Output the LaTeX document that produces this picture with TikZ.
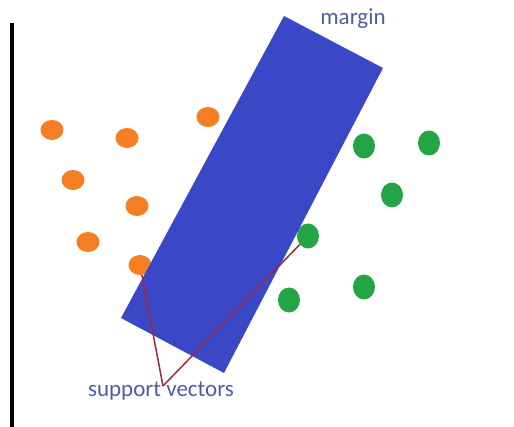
\documentclass[tikz,border=0pt]{standalone}
\usepackage{fontspec}
\setmainfont{Carlito}
\usetikzlibrary{shapes.geometric}
\definecolor{marginblue}{RGB}{58,72,200}
\definecolor{dotorange}{RGB}{245,125,35}
\definecolor{dotgreen}{RGB}{35,165,70}
\definecolor{labelblue}{RGB}{80,92,160}
\definecolor{svred}{RGB}{160,40,60}

\tikzset{
  orangedot/.style={shape=ellipse, fill=dotorange, inner sep=0pt, minimum width=23pt, minimum height=20pt},
  greendot/.style={shape=ellipse, fill=dotgreen, inner sep=0pt, minimum width=22pt, minimum height=25pt},
  labeltext/.style={text=labelblue, font=\fontsize{23}{26}\selectfont, inner sep=0pt}
}

\begin{document}
\begin{tikzpicture}[x=1pt, y=-1pt]
  \useasboundingbox (0,0) rectangle (514,427);
  % axis
  \draw[line width=4pt] (12,23) -- (12,427);
  % class one
  \node[orangedot] (o1) at (52,130) {};
  \node[orangedot] (o2) at (127,138) {};
  \node[orangedot] (o3) at (208,117) {};
  \node[orangedot] (o4) at (73,180) {};
  \node[orangedot] (o5) at (137,206) {};
  \node[orangedot] (o6) at (88,242) {};
  \node[orangedot] (o7) at (140,265) {};
  % class two
  \node[greendot] (g1) at (364,146) {};
  \node[greendot] (g2) at (429,143) {};
  \node[greendot] (g3) at (392,195) {};
  \node[greendot] (g4) at (308,236) {};
  \node[greendot] (g5) at (364,287) {};
  \node[greendot] (g6) at (289,300) {};
  % margin band
  \fill[marginblue] (284,16) -- (383,68) -- (224,373) -- (121,318) -- cycle;
  \node[labeltext] (margin) at (353,19) {margin};
  % support vectors
  \node[labeltext] (sv) at (161,391) {support vectors};
  \coordinate (apex) at (163,386);
  \draw[svred, line width=1.5pt] (apex) -- (o7);
  \draw[svred, line width=1.5pt] (apex) -- (g4);
\end{tikzpicture}
\end{document}
